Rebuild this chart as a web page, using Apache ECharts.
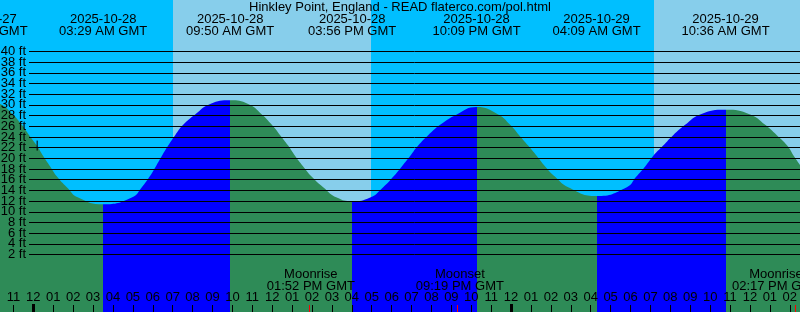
<!DOCTYPE html>
<html><head><meta charset="utf-8">
<script src="https://cdn.jsdelivr.net/npm/echarts@6/dist/echarts.min.js"></script>
<style>html,body{margin:0;padding:0;background:#00BFFF}#c{width:800px;height:312px}</style>
</head><body><div id="c"></div>
<script>
const chartTitle = 'Hinkley Point, England - READ flaterco.com/pol.html';
const baseDay = '2025-10-28';
const viewStart = '2025-10-27 22:19:30';
const viewEnd = '2025-10-29 14:19:30';

const tideTimes = [
 '2025-10-27 21:30','2025-10-27 22:20','2025-10-27 22:58','2025-10-27 23:25','2025-10-27 23:47',
 '2025-10-28 00:10','2025-10-28 00:29','2025-10-28 00:50','2025-10-28 01:11','2025-10-28 01:40',
 '2025-10-28 02:14','2025-10-28 03:29','2025-10-28 04:55','2025-10-28 05:25','2025-10-28 05:48',
 '2025-10-28 06:07','2025-10-28 06:25','2025-10-28 06:44','2025-10-28 07:05','2025-10-28 07:29',
 '2025-10-28 08:05','2025-10-28 08:50','2025-10-28 09:50','2025-10-28 10:44','2025-10-28 11:25',
 '2025-10-28 11:55','2025-10-28 12:20','2025-10-28 12:44','2025-10-28 13:05','2025-10-28 13:29',
 '2025-10-28 13:55','2025-10-28 14:29','2025-10-28 15:10','2025-10-28 15:56','2025-10-28 16:50',
 '2025-10-28 17:29','2025-10-28 17:59','2025-10-28 18:25','2025-10-28 18:50','2025-10-28 19:14',
 '2025-10-28 19:44','2025-10-28 20:20','2025-10-28 21:10','2025-10-28 22:09','2025-10-28 23:14',
 '2025-10-28 23:50','2025-10-29 00:17','2025-10-29 00:44','2025-10-29 01:10','2025-10-29 01:35',
 '2025-10-29 02:05','2025-10-29 02:44','2025-10-29 04:09','2025-10-29 05:40','2025-10-29 06:08',
 '2025-10-29 06:35','2025-10-29 06:59','2025-10-29 07:29','2025-10-29 07:59','2025-10-29 08:35',
 '2025-10-29 09:20','2025-10-29 10:36','2025-10-29 11:50','2025-10-29 12:35','2025-10-29 13:10',
 '2025-10-29 13:41','2025-10-29 14:01','2025-10-29 14:20','2025-10-29 14:40'
];
const tideHeights = [
 30.8, 30.0, 28, 26, 24,
 22, 20, 18, 16, 14,
 12, 10.7, 12, 14, 16,
 18, 20, 22, 24, 26,
 28, 30, 30.7, 30, 28,
 26, 24, 22, 20, 18,
 16, 14, 12, 11.3, 12,
 14, 16, 18, 20, 22,
 24, 26, 28, 29.4, 28,
 26, 24, 22, 20, 18,
 16, 14, 12.3, 14, 16,
 18, 20, 22, 24, 26,
 28, 28.9, 28, 26, 24,
 22, 20, 18.2, 16.2
];

const tideEventTimes = ['2025-10-27 21:30','2025-10-28 03:29','2025-10-28 09:50','2025-10-28 15:56','2025-10-28 22:09','2025-10-29 04:09','2025-10-29 10:36'];
const tideEventKinds = ['high','low','high','low','high','low','high'];

const sunriseTimes = ['2025-10-28 06:58:30','2025-10-29 07:01:30'];
const sunsetTimes = ['2025-10-28 16:52:30'];

const moonEventTimes = ['2025-10-28 13:52','2025-10-28 21:19','2025-10-29 14:17'];
const moonEventNames = ['Moonrise','Moonset','Moonrise'];

const depthTicks = [2,4,6,8,10,12,14,16,18,20,22,24,26,28,30,32,34,36,38,40];

const nowTime = '2025-10-28 00:11';
const nowHeight = 22.0;

// ---------- helpers ----------
const FONT = '"Liberation Sans", Arial, sans-serif';
const C_NIGHT = '#00BFFF', C_DAY = '#87CEEB', C_FALL = '#2E8B57', C_RISE = '#0000FF';
function toHours(s) {
  const [d, t] = s.split(' ');
  const days = (Date.UTC(+d.slice(0,4), +d.slice(5,7)-1, +d.slice(8,10)) -
                Date.UTC(+baseDay.slice(0,4), +baseDay.slice(5,7)-1, +baseDay.slice(8,10))) / 86400000;
  const p = t.split(':').map(Number);
  return days*24 + p[0] + p[1]/60 + (p[2]||0)/3600;
}
const pad = n => (n < 10 ? '0' : '') + n;
function timeLabel(s) {
  const t = s.split(' ')[1].split(':').map(Number);
  const h12 = ((t[0] + 11) % 12) + 1;
  return pad(h12) + ':' + pad(t[1]) + ' ' + (t[0] < 12 ? 'AM' : 'PM') + ' GMT';
}
const x0 = toHours(viewStart), x1 = toHours(viewEnd);
const hourTicks = []; for (let h = Math.ceil(x0); h <= Math.floor(x1); h++) hourTicks.push(h);
const midnightTicks = hourTicks.filter(h => ((h % 24) + 24) % 24 === 0);
const moonTicks = moonEventTimes.map(toHours);

const dayIntervals = sunriseTimes.map(sr => {
  const s = toHours(sr);
  const ss = sunsetTimes.map(toHours).filter(v => v > s);
  return [s, ss.length ? ss[0] : x1 + 1];
});

const evH = tideEventTimes.map(toHours);
const pieces = [{ lt: evH[0], color: tideEventKinds[0] === 'high' ? C_RISE : C_FALL }];
for (let i = 0; i < evH.length; i++) {
  const p = { gte: evH[i], color: tideEventKinds[i] === 'low' ? C_RISE : C_FALL };
  if (i < evH.length - 1) p.lt = evH[i+1];
  pieces.push(p);
}

const tideData = tideTimes.map((t, i) => [toHours(t), tideHeights[i]]);

const chart = echarts.init(document.getElementById('c'), null, { renderer: 'canvas' });
const textEl = (text, x, y, align) => ({ type: 'text', x, y, style: { text, fill: '#000', font: '13px ' + FONT, align: align || 'center', verticalAlign: 'middle' } });
const tickAxis = (values, width, color, len, z) => ({
  gridIndex: 2, type: 'value', min: x0, max: x1, z, position: 'bottom', offset: 0,
  axisLine: { show: false }, splitLine: { show: false }, axisLabel: { show: false },
  axisTick: { inside: true, length: len, customValues: values, lineStyle: { color, width } } });

chart.setOption({
  backgroundColor: C_NIGHT,
  animation: false,
  title: { text: chartTitle, left: 'center', top: 0, padding: [1, 0, 0, 0],
    textStyle: { fontSize: 13, fontWeight: 'normal', color: '#000', fontFamily: FONT } },
  grid: [
    { left: 0, right: 0, top: -1.92, bottom: -6.6 },
    { left: 29, right: 0, top: 51.5, bottom: 57.5 },
    { left: 0, right: 0, top: 0, bottom: 0 }
  ],
  xAxis: [
    { gridIndex: 0, type: 'value', min: x0, max: x1, show: false },
    { gridIndex: 1, type: 'value', min: 0, max: 1, show: false },
    { gridIndex: 2, type: 'value', min: x0, max: x1, z: 6, position: 'bottom', offset: 0,
      axisLine: { show: false }, splitLine: { show: false },
      axisTick: { inside: true, length: 7, customValues: hourTicks, lineStyle: { color: '#000', width: 1 } },
      axisLabel: { inside: true, customValues: hourTicks, margin: 15, verticalAlign: 'middle',
        color: '#000', fontSize: 13, fontFamily: FONT, showMinLabel: true, showMaxLabel: true,
        formatter: v => { const h = ((Math.round(v) % 24) + 24) % 24; return pad(((h + 11) % 12) + 1); } } },
    tickAxis(midnightTicks, 3, '#000', 8, 7),
    tickAxis(moonTicks, 1, '#FF0000', 7, 7)
  ],
  yAxis: [
    { gridIndex: 0, type: 'value', min: -10, max: 50, show: false },
    { gridIndex: 1, type: 'value', min: depthTicks[0], max: depthTicks[depthTicks.length-1],
      interval: depthTicks[1] - depthTicks[0], z: 5,
      axisLine: { show: false }, axisTick: { show: false }, axisLabel: { show: false },
      splitLine: { show: true, lineStyle: { color: '#000', width: 1 } } },
    { gridIndex: 2, type: 'value', min: 0, max: 1, show: false }
  ],
  visualMap: { type: 'piecewise', show: false, dimension: 0, seriesIndex: 1, pieces },
  series: [
    { type: 'custom', xAxisIndex: 0, yAxisIndex: 0, z: 1, silent: true,
      data: dayIntervals,
      renderItem: (params, api) => {
        const a = api.coord([api.value(0), 0])[0], b = api.coord([api.value(1), 0])[0];
        const cs = params.coordSys;
        return { type: 'rect', shape: { x: a, y: cs.y, width: b - a, height: cs.height }, style: { fill: C_DAY } };
      } },
    { type: 'line', xAxisIndex: 0, yAxisIndex: 0, z: 2, silent: true,
      data: tideData, smooth: 0.5, showSymbol: false,
      lineStyle: { opacity: 0, width: 0 }, areaStyle: { opacity: 1, origin: 'start' } },
    { type: 'custom', xAxisIndex: 0, yAxisIndex: 0, z: 8, silent: true,
      data: evH.map(h => [h, 0]),
      renderItem: (params, api) => {
        const x = api.coord([api.value(0), 0])[0];
        const s = tideEventTimes[params.dataIndex];
        return { type: 'group', children: [ textEl(s.slice(0, 10), x, 19.5), textEl(timeLabel(s), x, 31.7) ] };
      } },
    { type: 'custom', xAxisIndex: 0, yAxisIndex: 0, z: 8, silent: true,
      data: moonTicks.map(h => [h, 0]),
      renderItem: (params, api) => {
        const x = Math.min(api.coord([api.value(0), 0])[0], api.getWidth() - 24);
        const i = params.dataIndex;
        return { type: 'group', children: [ textEl(moonEventNames[i], x, 274), textEl(timeLabel(moonEventTimes[i]), x, 286) ] };
      } },
    { type: 'custom', xAxisIndex: 0, yAxisIndex: 0, z: 8, silent: true,
      data: [[toHours(nowTime), nowHeight]],
      renderItem: (params, api) => {
        const p = api.coord([api.value(0), api.value(1)]);
        return { type: 'line', shape: { x1: p[0], y1: p[1] - 5, x2: p[0], y2: p[1] + 5 }, style: { stroke: '#000', lineWidth: 1 } };
      } },
    { type: 'custom', xAxisIndex: 1, yAxisIndex: 1, z: 8, silent: true,
      data: depthTicks.map(v => [0, v]),
      renderItem: (params, api) => {
        const y = api.coord([0, api.value(1)])[1];
        return textEl(api.value(1) + ' ft', params.coordSys.x - 3, y, 'right');
      } }
  ]
});
</script></body></html>
